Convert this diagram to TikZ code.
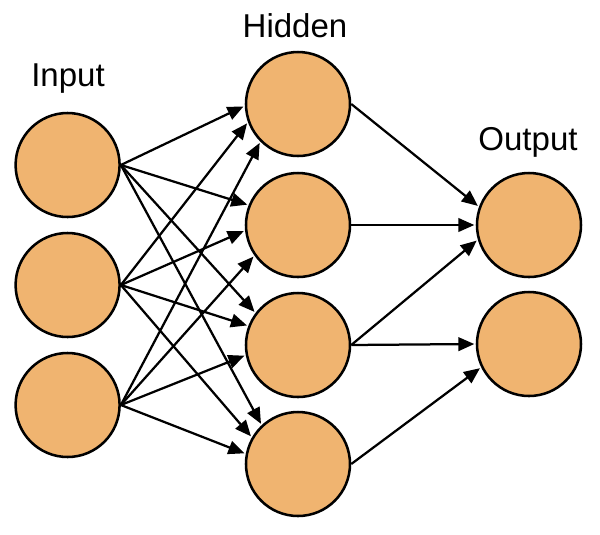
\documentclass[tikz,border=0pt]{standalone}
\usepackage{fontspec}
\setmainfont{Liberation Sans}
\usetikzlibrary{arrows.meta}

\definecolor{neuron}{RGB}{240,180,112}

\tikzset{
    unit/.style={circle, draw=black, line width=1.8pt, fill=neuron,
        minimum size=2.6cm, inner sep=0pt},
    layer/.style={anchor=base, font=\fontsize{23.5}{28}\selectfont},
    link/.style={line width=1.6pt, shorten >=1pt,
        -{Triangle[length=0.4cm, width=0.34cm]}}
}

\begin{document}
\begin{tikzpicture}
    \useasboundingbox (0,0) rectangle (15,-13.35);

    % layer titles
    \node[layer] (tin)  at (1.7,-2.15)   {Input};
    \node[layer] (thid) at (7.375,-0.94) {Hidden};
    \node[layer] (tout) at (13.2,-3.75)  {Output};

    % units
    \foreach \i/\y in {1/-4.125, 2/-7.125, 3/-10.125}
        \node[unit] (in\i) at (1.69,\y) {};
    \foreach \j/\y in {1/-2.6, 2/-5.625, 3/-8.625, 4/-11.6}
        \node[unit] (hid\j) at (7.45,\y) {};
    \foreach \k/\y in {1/-5.625, 2/-8.6}
        \node[unit] (out\k) at (13.225,\y) {};

    % input -> hidden
    \foreach \j/\a/\b/\c in {1/182/200/225, 2/158/186/215,
                             3/143/159/191, 4/133/150/169}
    {
        \draw[link] (in1.east) -- (hid\j.\a);
        \draw[link] (in2.east) -- (hid\j.\b);
        \draw[link] (in3.east) -- (hid\j.\c);
    }

    % hidden -> output
    \draw[link] (hid1.east) -- (out1.160);
    \draw[link] (hid2.east) -- (out1.west);
    \draw[link] (hid3.east) -- (out1.196);
    \draw[link] (hid3.east) -- (out2.west);
    \draw[link] (hid4.east) -- (out2.206);
\end{tikzpicture}
\end{document}
